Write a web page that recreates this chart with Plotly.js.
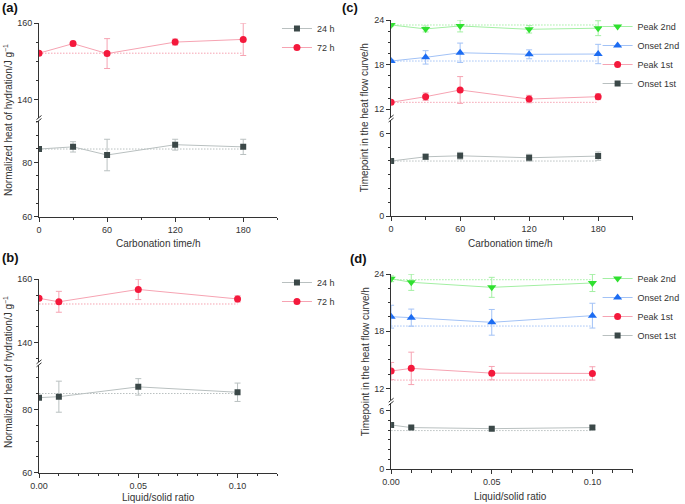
<!DOCTYPE html>
<html>
<head>
<meta charset="utf-8">
<script src="https://cdn.plot.ly/plotly-3.0.1.min.js"></script>
<style>
  body { margin: 0; padding: 0; background: #fff; }
  #myDiv { width: 685px; height: 504px; }
</style>
</head>
<body>
<div id="myDiv"></div>
<script>
// x values
var carbTime = [0, 30, 60, 120, 180];
var lsRatio = [0, 0.01, 0.05, 0.10];

// (a) normalized heat of hydration vs carbonation time (J/g)
var heatA24 = [84.9, 85.7, 82.7, 86.5, 85.7];
var errA24 = [0.5, 1.9, 5.8, 2.0, 2.8];
var heatA72 = [152.2, 154.7, 152.1, 155.1, 155.8];
var errA72 = [0.3, 0.6, 3.9, 0.8, 4.2];
var refA = [84.9, 152.2];

// (b) normalized heat of hydration vs liquid/solid ratio (J/g)
var heatB24 = [83.7, 84.0, 87.1, 85.4];
var errB24 = [0.5, 4.9, 2.6, 2.9];
var heatB72 = [154.0, 152.9, 156.8, 153.8];
var errB72 = [0.5, 3.3, 3.2, 1.0];
var refB = [85.0, 152.2];

// (c) timepoints in the heat flow curve vs carbonation time (h)
var peak2C = [23.33, 22.8, 23.2, 22.75, 22.9];
var errPeak2C = [0.15, 0.4, 0.8, 0.5, 1.0];
var onset2C = [18.49, 18.98, 19.6, 19.39, 19.43];
var errOnset2C = [0.15, 0.9, 1.3, 0.6, 1.3];
var peak1C = [12.94, 13.7, 14.6, 13.38, 13.7];
var errPeak1C = [0.15, 0.5, 1.8, 0.5, 0.4];
var onset1C = [3.99, 4.30, 4.37, 4.23, 4.35];
var errOnset1C = [0.1, 0.2, 0.25, 0.25, 0.3];
var refC = [23.33, 18.49, 12.94, 3.99];

// (d) timepoints in the heat flow curve vs liquid/solid ratio (h)
var peak2D = [23.5, 23.13, 22.6, 23.06];
var errPeak2D = [0.3, 0.85, 1.05, 0.9];
var onset2D = [19.52, 19.42, 18.93, 19.63];
var errOnset2D = [1.2, 0.9, 1.35, 1.3];
var peak1D = [13.82, 14.1, 13.6, 13.57];
var errPeak1D = [0.9, 1.7, 0.7, 0.7];
var onset1D = [4.55, 4.28, 4.17, 4.28];
var errOnset1D = [0.2, 0.15, 0.15, 0.2];
var refD = [23.4, 18.54, 12.87, 3.97];

var FONT = 'Liberation Sans, Arial, Helvetica, sans-serif';
var INK = '#333333';

// marker colour / light line colour per series
var grey = { m: '#3b4848', l: '#b9c0c0', sym: 'square', size: 6 };
var red = { m: '#f4193c', l: '#f6a3b2', sym: 'circle', size: 7 };
var green = { m: '#2fe02f', l: '#a3efa3', sym: 'triangle-down', size: 8 };
var blue = { m: '#1c6cf2', l: '#a2c2f6', sym: 'triangle-up', size: 8 };

// pixel -> paper helpers (margins are zero, so paper == page)
function px(x) { return x / 685; }
function py(y) { return 1 - y / 504; }

function series(x, y, err, name, st, xa, ya, leg) {
  return {
    x: x, y: y, name: name, type: 'scatter', mode: 'lines+markers',
    xaxis: xa, yaxis: ya, legend: leg,
    line: { color: st.l, width: 1 },
    marker: { color: st.m, symbol: st.sym, size: st.size },
    error_y: { type: 'data', array: err, visible: true, color: st.l, thickness: 1, width: 3 },
    hoverinfo: 'x+y+name'
  };
}

// dotted reference line at the untreated value
function refLine(x, v, st, xa, ya) {
  return {
    x: [x[0], x[x.length - 1]], y: [v, v], type: 'scatter', mode: 'lines',
    xaxis: xa, yaxis: ya, showlegend: false, hoverinfo: 'skip',
    line: { color: st.l, width: 1, dash: '1.5px,1.5px' }
  };
}

var data = [
  refLine(carbTime, refA[0], grey, 'x', 'y'),
  refLine(carbTime, refA[1], red, 'x', 'y2'),
  series(carbTime, heatA24, errA24, '24 h', grey, 'x', 'y', 'legend'),
  series(carbTime, heatA72, errA72, '72 h', red, 'x', 'y2', 'legend'),

  refLine(lsRatio, refB[0], grey, 'x2', 'y3'),
  refLine(lsRatio, refB[1], red, 'x2', 'y4'),
  series(lsRatio, heatB24, errB24, '24 h', grey, 'x2', 'y3', 'legend2'),
  series(lsRatio, heatB72, errB72, '72 h', red, 'x2', 'y4', 'legend2'),

  refLine(carbTime, refC[0], green, 'x3', 'y6'),
  refLine(carbTime, refC[1], blue, 'x3', 'y6'),
  refLine(carbTime, refC[2], red, 'x3', 'y6'),
  refLine(carbTime, refC[3], grey, 'x3', 'y5'),
  series(carbTime, peak2C, errPeak2C, 'Peak 2nd', green, 'x3', 'y6', 'legend3'),
  series(carbTime, onset2C, errOnset2C, 'Onset 2nd', blue, 'x3', 'y6', 'legend3'),
  series(carbTime, peak1C, errPeak1C, 'Peak 1st', red, 'x3', 'y6', 'legend3'),
  series(carbTime, onset1C, errOnset1C, 'Onset 1st', grey, 'x3', 'y5', 'legend3'),

  refLine(lsRatio, refD[0], green, 'x4', 'y8'),
  refLine(lsRatio, refD[1], blue, 'x4', 'y8'),
  refLine(lsRatio, refD[2], red, 'x4', 'y8'),
  refLine(lsRatio, refD[3], grey, 'x4', 'y7'),
  series(lsRatio, peak2D, errPeak2D, 'Peak 2nd', green, 'x4', 'y8', 'legend4'),
  series(lsRatio, onset2D, errOnset2D, 'Onset 2nd', blue, 'x4', 'y8', 'legend4'),
  series(lsRatio, peak1D, errPeak1D, 'Peak 1st', red, 'x4', 'y8', 'legend4'),
  series(lsRatio, onset1D, errOnset1D, 'Onset 1st', grey, 'x4', 'y7', 'legend4')
];

function axis(extra) {
  var a = {
    showline: true, linecolor: INK, linewidth: 1, mirror: false,
    showgrid: false, zeroline: false, ticks: 'outside', ticklen: 4,
    tickcolor: INK, tickwidth: 1, tickfont: { family: FONT, size: 9, color: INK },
    fixedrange: true
  };
  for (var k in extra) a[k] = extra[k];
  return a;
}
function minor(d) {
  return { dtick: d, ticks: 'outside', ticklen: 2.5, tickcolor: INK, tickwidth: 1, showgrid: false };
}

function legendAt(x, y) {
  return {
    x: px(x), y: py(y), xanchor: 'left', yanchor: 'top',
    bgcolor: 'rgba(0,0,0,0)', borderwidth: 0, itemwidth: 30,
    font: { family: FONT, size: 9, color: INK }, tracegroupgap: 0
  };
}

// little "//" marks where each y axis is broken
var shapes = [];
function breakMark(x, yLow, yHigh) {
  [yLow, yHigh].forEach(function(y) {
    shapes.push({
      type: 'line', xref: 'paper', yref: 'paper',
      x0: px(x - 2.5), y0: py(y + 2), x1: px(x + 2.5), y1: py(y - 2),
      line: { color: INK, width: 1 }
    });
  });
}
breakMark(39.3, 120.5, 117.5);
breakMark(39.3, 364.8, 361.8);
breakMark(394, 120, 117);
breakMark(394, 403.2, 400.2);

function label(text, x, y, opts) {
  var a = {
    text: text, xref: 'paper', yref: 'paper', x: px(x), y: py(y),
    showarrow: false, xanchor: 'center', yanchor: 'middle',
    font: { family: FONT, size: 10, color: INK }
  };
  for (var k in opts) a[k] = opts[k];
  return a;
}

var annotations = [
  label('<b>(a)</b>', 0, 8, { xanchor: 'left', font: { family: FONT, size: 13, color: '#111' } }),
  label('<b>(b)</b>', 0, 257, { xanchor: 'left', font: { family: FONT, size: 13, color: '#111' } }),
  label('<b>(c)</b>', 343, 8, { xanchor: 'left', font: { family: FONT, size: 13, color: '#111' } }),
  label('<b>(d)</b>', 351, 258, { xanchor: 'left', font: { family: FONT, size: 13, color: '#111' } }),
  label('Carbonation time/h', 160, 243),
  label('Liquid/solid ratio', 160, 497),
  label('Carbonation time/h', 514, 243),
  label('Liquid/solid ratio', 514, 496),
  label('Normalized heat of hydration/J g<sup>−1</sup>', 8, 120, { textangle: -90 }),
  label('Normalized heat of hydration/J g<sup>−1</sup>', 8, 372, { textangle: -90 }),
  label('Timepoint in the heat flow curve/h', 367, 118, { textangle: -90 }),
  label('Timepoint in the heat flow curve/h', 368, 362, { textangle: -90 })
];

var layout = {
  width: 685, height: 504,
  margin: { l: 0, r: 0, t: 0, b: 0, pad: 0 },
  paper_bgcolor: '#ffffff', plot_bgcolor: 'rgba(0,0,0,0)',
  font: { family: FONT, color: INK },
  showlegend: true,
  hovermode: 'closest',

  // (a)
  xaxis: axis({ domain: [px(39.3), px(279.3)], anchor: 'y', range: [0, 210], tick0: 0, dtick: 60, minor: minor(30) }),
  yaxis: axis({ domain: [py(216.7), py(120.5)], anchor: 'x', range: [60, 95.4], tick0: 0, dtick: 20, minor: minor(5) }),
  yaxis2: axis({ domain: [py(117.5), py(23.3)], anchor: 'x', range: [135.42, 160], tick0: 0, dtick: 20, minor: minor(5) }),

  // (b)
  xaxis2: axis({ domain: [px(39.3), px(279.3)], anchor: 'y3', range: [0, 0.12], tick0: 0, dtick: 0.05, tickformat: '.2f', minor: minor(0.01) }),
  yaxis3: axis({ domain: [py(472.7), py(364.8)], anchor: 'x2', range: [60, 94.07], tick0: 0, dtick: 20, minor: minor(5) }),
  yaxis4: axis({ domain: [py(361.8), py(279.3)], anchor: 'x2', range: [133.95, 160], tick0: 0, dtick: 20, minor: minor(5) }),

  // (c)
  xaxis3: axis({ domain: [px(394), px(637.3)], anchor: 'y5', range: [0, 210], tick0: 0, dtick: 60, minor: minor(30) }),
  yaxis5: axis({ domain: [py(216), py(120)], anchor: 'x3', range: [0, 6.97], tick0: 0, dtick: 6, minor: minor(1) }),
  yaxis6: axis({ domain: [py(117), py(20)], anchor: 'x3', range: [10.97, 24], tick0: 0, dtick: 6, minor: minor(1.5) }),

  // (d)
  xaxis4: axis({ domain: [px(394), px(637.3)], anchor: 'y7', range: [0, 0.12], tick0: 0, dtick: 0.05, tickformat: '.2f', minor: minor(0.01) }),
  yaxis7: axis({ domain: [py(469), py(403.2)], anchor: 'x4', range: [0, 6.8], tick0: 0, dtick: 6, minor: minor(1) }),
  yaxis8: axis({ domain: [py(400.2), py(274)], anchor: 'x4', range: [10.76, 24], tick0: 0, dtick: 6, minor: minor(1.5) }),

  legend: legendAt(279, 14),
  legend2: legendAt(279, 268),
  legend3: legendAt(602, 12),
  legend4: legendAt(602, 264),

  shapes: shapes,
  annotations: annotations
};

Plotly.newPlot('myDiv', data, layout, { displayModeBar: false });
</script>
</body>
</html>
